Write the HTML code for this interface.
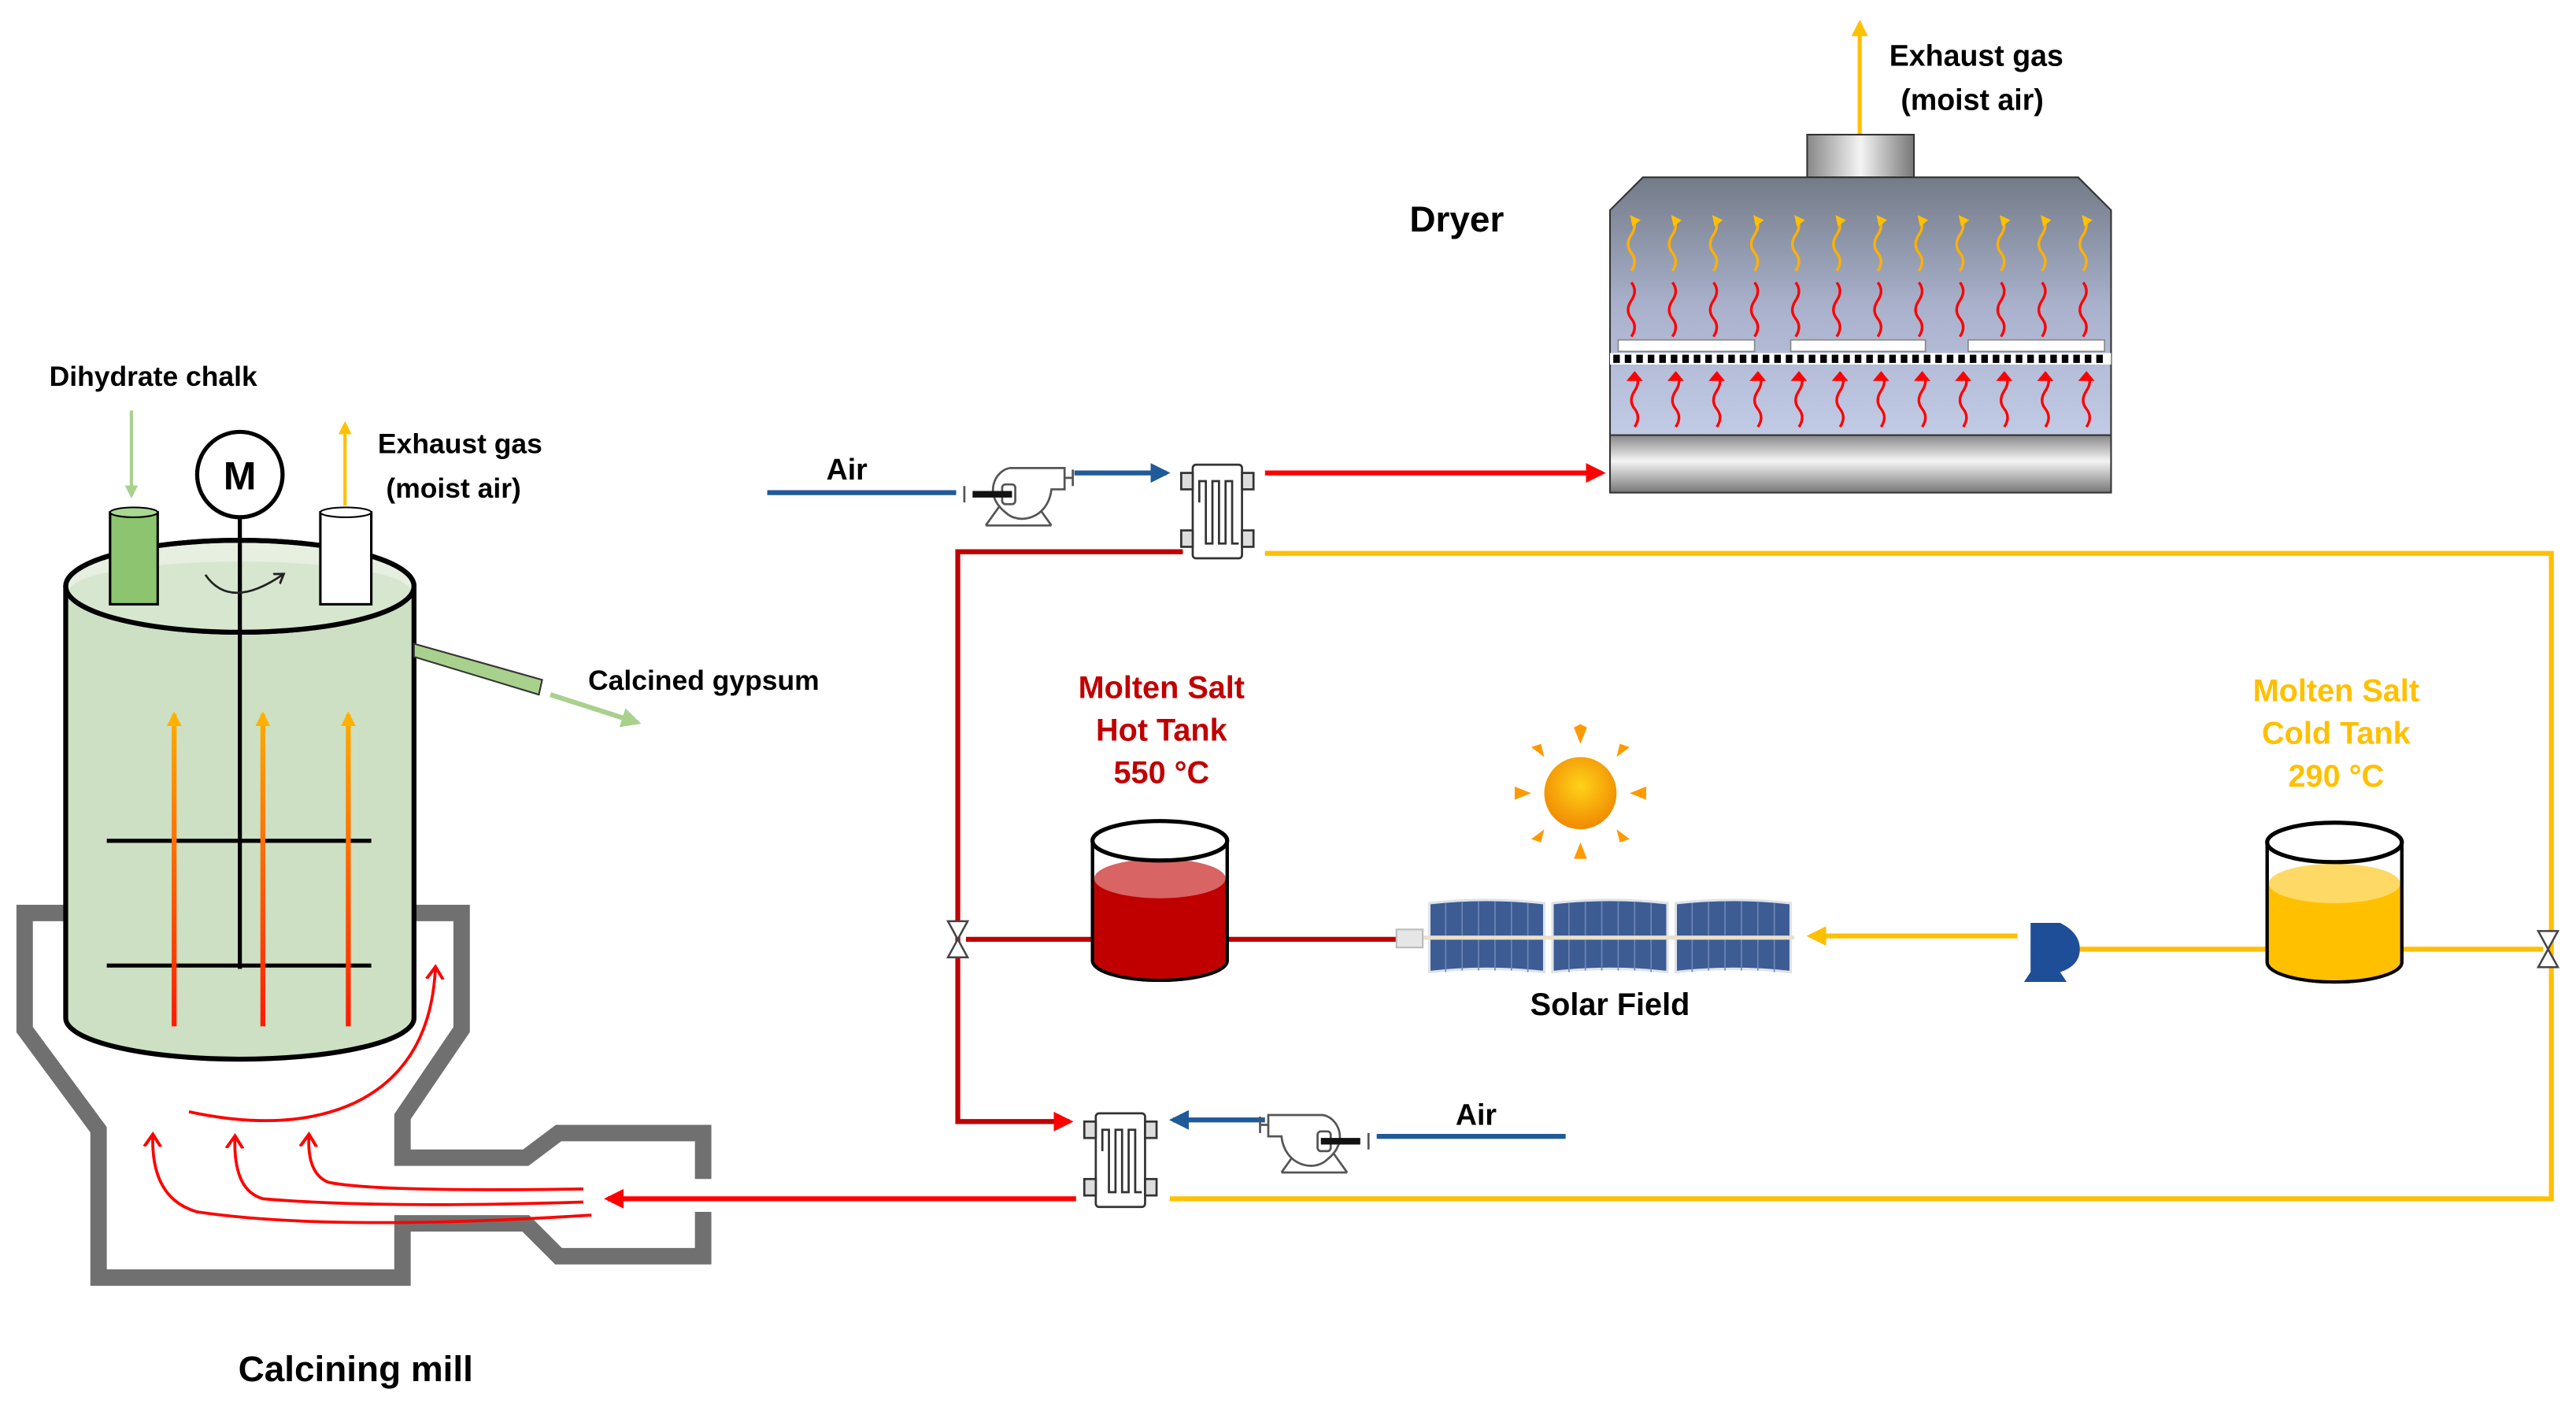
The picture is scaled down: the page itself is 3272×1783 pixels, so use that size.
<!DOCTYPE html>
<html><head><meta charset="utf-8"><style>html,body{margin:0;padding:0;background:#fff}svg{display:block}text{font-family:"Liberation Sans",sans-serif;font-weight:bold}</style></head><body>
<svg width="3272" height="1783" viewBox="0 0 1568 855" preserveAspectRatio="none" xmlns="http://www.w3.org/2000/svg">
<defs>
<linearGradient id="db" x1="0" y1="0" x2="0" y2="1"><stop offset="0" stop-color="#737b88"/><stop offset="0.5" stop-color="#a9b1cc"/><stop offset="1" stop-color="#c2cbe6"/></linearGradient>
<linearGradient id="met" x1="0" y1="0" x2="0" y2="1"><stop offset="0" stop-color="#888"/><stop offset="0.45" stop-color="#f4f4f4"/><stop offset="1" stop-color="#777"/></linearGradient>
<linearGradient id="metx" x1="0" y1="0" x2="1" y2="0"><stop offset="0" stop-color="#888"/><stop offset="0.5" stop-color="#f4f4f4"/><stop offset="1" stop-color="#777"/></linearGradient>
<linearGradient id="ora" gradientUnits="userSpaceOnUse" x1="0" y1="625" x2="0" y2="430"><stop offset="0" stop-color="#ff1a00"/><stop offset="1" stop-color="#ffb000"/></linearGradient>
<radialGradient id="sun" cx="0.5" cy="0.4" r="0.6"><stop offset="0" stop-color="#ffd21a"/><stop offset="1" stop-color="#f08a00"/></radialGradient>
<marker id="ar" viewBox="0 0 10 10" refX="8" refY="5" markerWidth="4" markerHeight="4" orient="auto"><path d="M0 0L10 5L0 10z" fill="#f00"/></marker>
<marker id="ay" viewBox="0 0 10 10" refX="8" refY="5" markerWidth="4" markerHeight="4" orient="auto"><path d="M0 0L10 5L0 10z" fill="#ffc000"/></marker>
<marker id="ab" viewBox="0 0 10 10" refX="8" refY="5" markerWidth="4" markerHeight="4" orient="auto"><path d="M0 0L10 5L0 10z" fill="#1f5a99"/></marker>
<marker id="ag" viewBox="0 0 10 10" refX="8" refY="5" markerWidth="4" markerHeight="4" orient="auto"><path d="M0 0L10 5L0 10z" fill="#a9d18e"/></marker>
<marker id="ao" viewBox="0 0 10 10" refX="8" refY="5" markerWidth="3" markerHeight="3" orient="auto"><path d="M0 0L10 5L0 10z" fill="#ffb000"/></marker>
<marker id="ac" viewBox="0 0 10 10" refX="5" refY="5" markerWidth="7" markerHeight="7" orient="auto"><path d="M0 1L6 5L0 9" fill="none" stroke="#f00" stroke-width="1.5"/></marker>
<marker id="ak" viewBox="0 0 10 10" refX="5" refY="5" markerWidth="7" markerHeight="7" orient="auto"><path d="M0 1L6 5L0 9" fill="none" stroke="#222" stroke-width="1.5"/></marker>
<g id="fan" fill="#fff" stroke="#555" stroke-width="1.3"><path d="M-20 22L-10 8M20 22L10 8M-20 22H20" fill="none"/><path d="M-5 -13H28V0H20C18 18 0 22 -8 14C-22 3 -14 -12 -5 -13Z"/><rect x="-10" y="-3" width="8" height="12" rx="2"/><path d="M-28 3H-4" stroke="#111" stroke-width="4"/><path d="M-33 -2V8M33 -12V-2M28 -7H33" fill="none"/></g>
<g id="hx" stroke="#333" stroke-width="1.3" fill="#fff"><rect x="-14" y="-28" width="30" height="57" rx="2"/><rect x="-21" y="-23" width="7" height="10" fill="#ddd"/><rect x="-21" y="12" width="7" height="10" fill="#ddd"/><rect x="16" y="-23" width="7" height="10" fill="#ddd"/><rect x="16" y="12" width="7" height="10" fill="#ddd"/><path d="M-10 -5V-18H-6V20H-2V-18H2V20H6V-18H10V20H14" fill="none"/></g>
<g id="wv"><path d="M0 0q4 -6 0 -11t0 -11t0 -11" fill="none" stroke-width="1.6"/></g>
</defs>

<g fill="none" stroke-width="3">
<path d="M467 300H582" stroke="#1f5a99"/>
<path d="M654 288H710" stroke="#1f5a99" marker-end="url(#ab)"/>
<path d="M770 288H975" stroke="#f00" marker-end="url(#ar)"/>
<path d="M720 336H583V683H651" stroke="#c00000" marker-end="url(#ar)"/>
<path d="M770 337H1553V730H712" stroke="#ffc000"/>
<path d="M588 572H850" stroke="#c00000"/>
<path d="M1228 570H1102" stroke="#ffc000" marker-end="url(#ay)"/>
<path d="M1265 578H1548" stroke="#ffc000"/>
<path d="M770 682H714" stroke="#1f5a99" marker-end="url(#ab)"/>
<path d="M838 692H953" stroke="#1f5a99"/>
<path d="M655 730H370" stroke="#f00" marker-end="url(#ar)"/>
</g>
<use href="#fan" x="620" y="298"/>
<use href="#hx" x="740" y="311"/>
<use href="#hx" x="681" y="706"/>
<g transform="translate(800 692) scale(-1 1)"><use href="#fan"/></g>
<g fill="#fff" stroke="#444" stroke-width="1.2"><path d="M577 561H589L583 572ZM577 583H589L583 572Z"/><path d="M1545 567H1557L1551 578ZM1545 589H1557L1551 578Z"/></g>
<text x="503" y="292" font-size="18">Air</text>
<text x="886" y="685" font-size="18">Air</text>

<path d="M1132 82V14" stroke="#ffc000" stroke-width="2.5" marker-end="url(#ay)"/>
<text x="1150" y="40" font-size="18">Exhaust gas</text>
<text x="1157" y="67" font-size="18">(moist air)</text>
<rect x="1100" y="82" width="65" height="26" fill="url(#metx)" stroke="#333"/>
<path d="M980 128L1000 108H1265L1285 128V265H980Z" fill="url(#db)" stroke="#333"/>
<rect x="980" y="265" width="305" height="35" fill="url(#met)" stroke="#333"/>
<g fill="#fff" stroke="#888" stroke-width="0.8"><rect x="985" y="207" width="83" height="7"/><rect x="1090" y="207" width="82" height="7"/><rect x="1198" y="207" width="83" height="7"/></g>
<rect x="980" y="215" width="305" height="7" fill="#fff"/>
<path d="M982 218.5H1283" stroke="#000" stroke-width="5" stroke-dasharray="4 3"/>
<g stroke="#ffb000" marker-end="url(#ay)">
<use href="#wv" x="993" y="165"/><use href="#wv" x="1018" y="165"/><use href="#wv" x="1043" y="165"/><use href="#wv" x="1068" y="165"/><use href="#wv" x="1093" y="165"/><use href="#wv" x="1118" y="165"/><use href="#wv" x="1143" y="165"/><use href="#wv" x="1168" y="165"/><use href="#wv" x="1193" y="165"/><use href="#wv" x="1218" y="165"/><use href="#wv" x="1243" y="165"/><use href="#wv" x="1268" y="165"/></g>
<g stroke="#f00">
<use href="#wv" x="993" y="205"/><use href="#wv" x="1018" y="205"/><use href="#wv" x="1043" y="205"/><use href="#wv" x="1068" y="205"/><use href="#wv" x="1093" y="205"/><use href="#wv" x="1118" y="205"/><use href="#wv" x="1143" y="205"/><use href="#wv" x="1168" y="205"/><use href="#wv" x="1193" y="205"/><use href="#wv" x="1218" y="205"/><use href="#wv" x="1243" y="205"/><use href="#wv" x="1268" y="205"/></g>
<g stroke="#f00">
<use href="#wv" x="995" y="260"/><use href="#wv" x="1020" y="260"/><use href="#wv" x="1045" y="260"/><use href="#wv" x="1070" y="260"/><use href="#wv" x="1095" y="260"/><use href="#wv" x="1120" y="260"/><use href="#wv" x="1145" y="260"/><use href="#wv" x="1170" y="260"/><use href="#wv" x="1195" y="260"/><use href="#wv" x="1220" y="260"/><use href="#wv" x="1245" y="260"/><use href="#wv" x="1270" y="260"/></g>
<g fill="#f00"><path d="M990 232l5 -6l5 6z M1015 232l5 -6l5 6z M1040 232l5 -6l5 6z M1065 232l5 -6l5 6z M1090 232l5 -6l5 6z M1115 232l5 -6l5 6z M1140 232l5 -6l5 6z M1165 232l5 -6l5 6z M1190 232l5 -6l5 6z M1215 232l5 -6l5 6z M1240 232l5 -6l5 6z M1265 232l5 -6l5 6z"/></g>
<text x="858" y="141" font-size="22">Dryer</text>

<text font-size="19" fill="#c00000" text-anchor="middle"><tspan x="707" y="425">Molten Salt</tspan><tspan x="707" y="451">Hot Tank</tspan><tspan x="707" y="477">550 °C</tspan></text>
<text font-size="19" fill="#ffc000" text-anchor="middle"><tspan x="1422" y="427">Molten Salt</tspan><tspan x="1422" y="453">Cold Tank</tspan><tspan x="1422" y="479">290 °C</tspan></text>
<path d="M665 512V585A41 12 0 0 0 747 585V512" fill="#fff" stroke="#000" stroke-width="2"/>
<path d="M666 535V585A40 12 0 0 0 746 585V535Z" fill="#c00000"/>
<ellipse cx="706" cy="535" rx="40" ry="12" fill="#d86464"/>
<ellipse cx="706" cy="512" rx="41" ry="12" fill="#fff" stroke="#000" stroke-width="2.5"/>
<path d="M665 512V585A41 12 0 0 0 747 585V512" fill="none" stroke="#000" stroke-width="2"/>
<path d="M1380 513V586A41 12 0 0 0 1462 586V513" fill="#fff" stroke="#000" stroke-width="2"/>
<path d="M1381 538V586A40 12 0 0 0 1461 586V538Z" fill="#ffc000"/>
<ellipse cx="1421" cy="538" rx="40" ry="12" fill="#ffd966"/>
<ellipse cx="1421" cy="513" rx="41" ry="12" fill="#fff" stroke="#000" stroke-width="2.5"/>
<path d="M1380 513V586A41 12 0 0 0 1462 586V513" fill="none" stroke="#000" stroke-width="2"/>
<g fill="#ff9a00"><path d="M962 453l-4 -10l4 -2l4 2z M962 513l-4 10h8z M932 483l-10 -4v8z M992 483l10 -4v8z M940 461l-8 -6l6 -2z M984 461l8 -6l-6 -2z M940 505l-8 6l6 2z M984 505l8 6l-6 2z"/></g>
<circle cx="962" cy="483" r="22" fill="url(#sun)"/>
<g fill="#3d5c94" stroke="#dfe3ea" stroke-width="1.5"><path d="M870 550Q905 546 940 550V592Q905 588 870 592Z"/><path d="M945 550Q980 546 1015 550V592Q980 588 945 592Z"/><path d="M1020 550Q1055 546 1090 550V592Q1055 588 1020 592Z"/></g>
<g stroke="#6d86b5" stroke-width="0.8"><path d="M880 550V592M890 549V591M900 549V591M910 549V591M920 549V591M930 550V592M955 550V592M965 549V591M975 549V591M985 549V591M995 549V591M1005 550V592M1030 550V592M1040 549V591M1050 549V591M1060 549V591M1070 549V591M1080 550V592"/></g>
<path d="M855 571H1092" stroke="#e8e0c8" stroke-width="2.5"/>
<rect x="850" y="566" width="16" height="11" fill="#e6e6e6" stroke="#bbb"/>
<text x="980" y="618" font-size="19" text-anchor="middle">Solar Field</text>
<g fill="#1f4e99"><path d="M1236 562h18q12 6 12 16q0 10 -12 14l4 6h-26l4 -6z"/><circle cx="1250" cy="578" r="12"/></g>

<g fill="none" stroke="#707070" stroke-width="10" stroke-linejoin="miter">
<path d="M42 556H15V627L60 688V778H245V745H320L340 765H428V738"/>
<path d="M250 556H281V627L245 680V705H320L340 690H428V718"/>
</g>
<path d="M40 357V620A106 25 0 0 0 252 620V357" fill="#cde0c4" stroke="#000" stroke-width="3"/>
<ellipse cx="146" cy="357" rx="106" ry="28" fill="#e6efe0" stroke="#000" stroke-width="3"/>
<path d="M42 360A104 24 0 0 0 250 360A104 18 0 0 0 42 360" fill="#d6e6cf"/>
<ellipse cx="146" cy="357" rx="106" ry="28" fill="none" stroke="#000" stroke-width="3"/>
<path d="M252 392L330 414L328 423L252 400Z" fill="#a9d18e" stroke="#333"/>
<path d="M335 423L388 440" stroke="#a9d18e" stroke-width="3" marker-end="url(#ag)"/>
<rect x="67" y="312" width="29" height="56" fill="#8cc46f" stroke="#000" stroke-width="1.5"/>
<ellipse cx="81.5" cy="312" rx="14.5" ry="3" fill="#a9d890" stroke="#000"/>
<rect x="195" y="312" width="31" height="56" fill="#fff" stroke="#000" stroke-width="1.5"/>
<ellipse cx="210.5" cy="312" rx="15.5" ry="3" fill="#fff" stroke="#000"/>
<path d="M80 250V302" stroke="#a9d18e" stroke-width="2" marker-end="url(#ag)"/>
<path d="M210 308V258" stroke="#ffc000" stroke-width="2" marker-end="url(#ay)"/>
<circle cx="146" cy="289" r="26" fill="#fff" stroke="#000" stroke-width="2.5"/>
<text x="146" y="298" font-size="24" text-anchor="middle">M</text>
<path d="M146 315V590M65 512H226M65 588H226" stroke="#000" stroke-width="2.5"/>
<path d="M125 350Q140 372 172 350" fill="none" stroke="#222" stroke-width="1.3" marker-end="url(#ak)"/>
<g stroke="url(#ora)" stroke-width="3"><path d="M106 625V435" marker-end="url(#ao)"/><path d="M160 625V435" marker-end="url(#ao)"/><path d="M212 625V435" marker-end="url(#ao)"/></g>
<g fill="none" stroke="#f00" stroke-width="1.8">
<path d="M115 677Q175 690 215 672Q262 650 265 590" marker-end="url(#ac)"/>
<path d="M360 740Q200 750 120 738Q92 730 93 692" marker-end="url(#ac)"/>
<path d="M355 732Q230 736 160 730Q142 725 143 693" marker-end="url(#ac)"/>
<path d="M355 724Q230 726 200 720Q187 715 188 692" marker-end="url(#ac)"/>
</g>
<text x="30" y="235" font-size="17">Dihydrate chalk</text>
<text x="230" y="276" font-size="17">Exhaust gas</text>
<text x="235" y="303" font-size="17">(moist air)</text>
<text x="358" y="420" font-size="17">Calcined gypsum</text>
<text x="145" y="841" font-size="22">Calcining mill</text>
</svg>
</body></html>
